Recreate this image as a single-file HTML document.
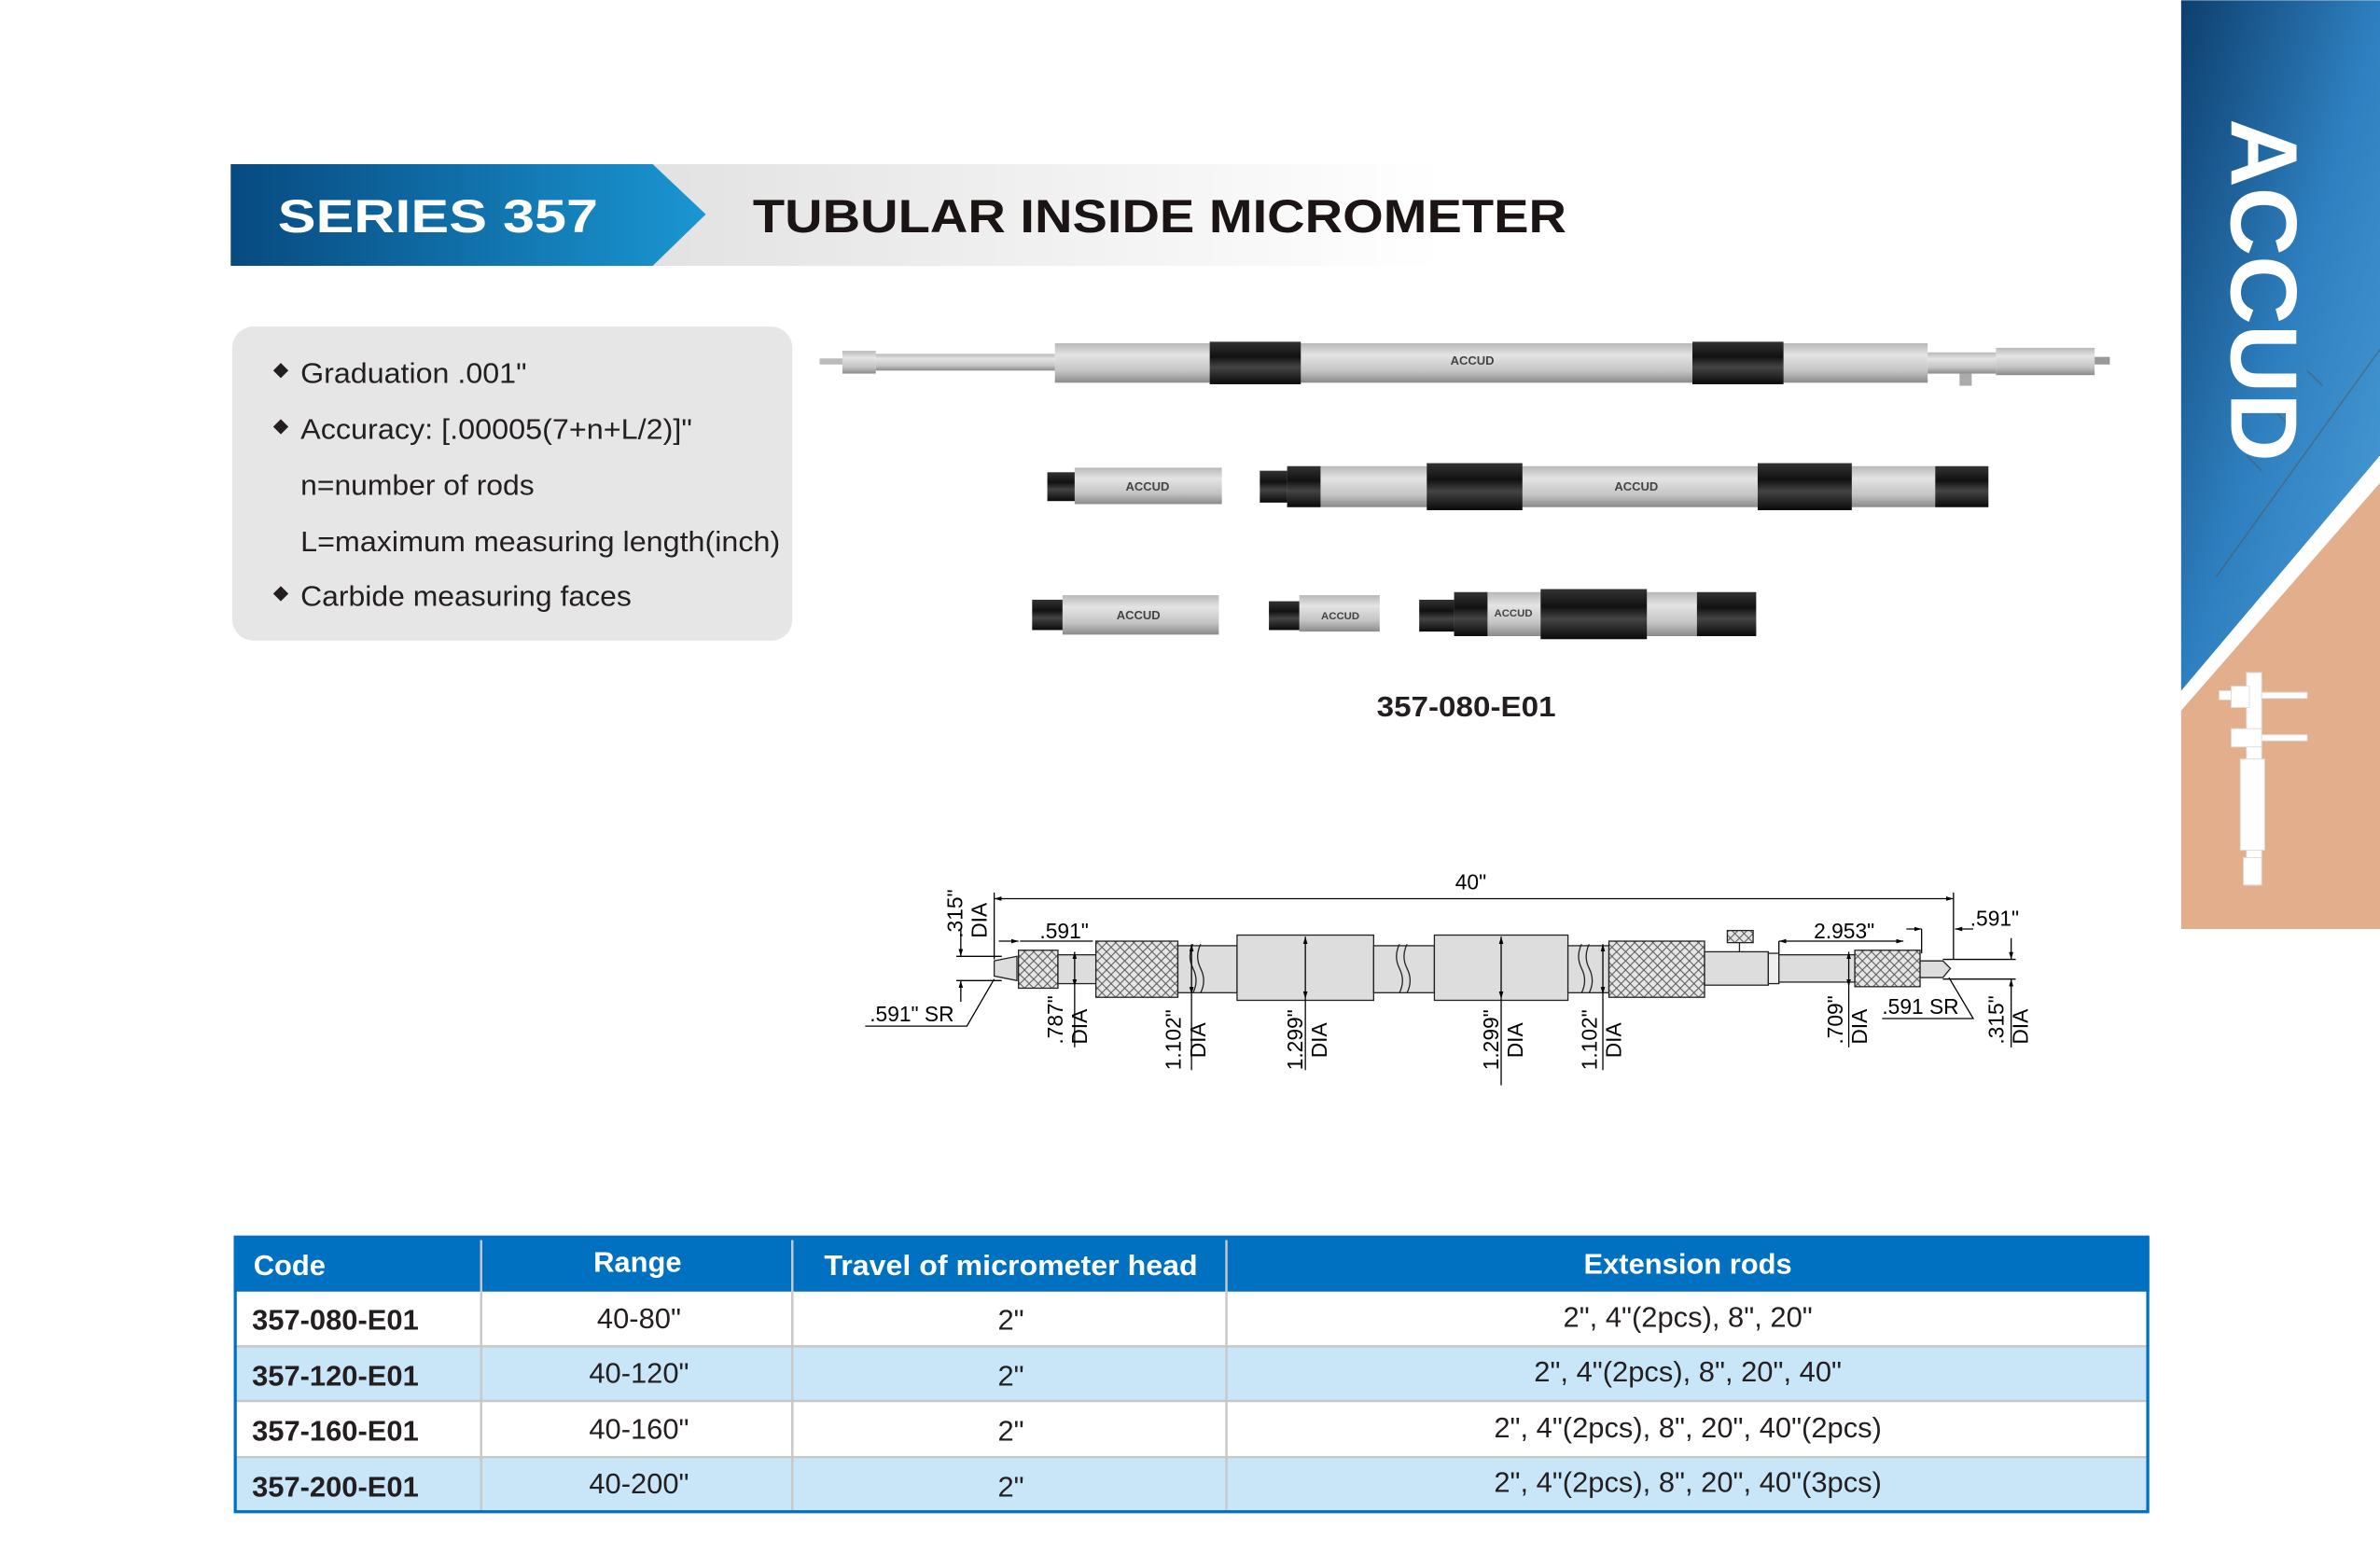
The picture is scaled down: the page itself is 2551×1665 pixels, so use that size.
<!DOCTYPE html>
<html><head><meta charset="utf-8"><style>html,body{margin:0;padding:0;background:#fff}svg{display:block}</style></head><body>
<svg xmlns="http://www.w3.org/2000/svg" width="2551" height="1665" viewBox="0 0 1568 1023" font-family="Liberation Sans, Arial, sans-serif">
<defs>
<linearGradient id="hb" x1="0" x2="1"><stop offset="0" stop-color="#074a80"/><stop offset="1" stop-color="#1a96d2"/></linearGradient>
<linearGradient id="hg" x1="0" x2="1"><stop offset="0" stop-color="#e2e2e2"/><stop offset="1" stop-color="#ffffff"/></linearGradient>
<linearGradient id="cyl" x1="0" y1="0" x2="0" y2="1"><stop offset="0" stop-color="#b8b8b8"/><stop offset="0.3" stop-color="#e4e4e4"/><stop offset="0.7" stop-color="#c4c4c4"/><stop offset="1" stop-color="#8a8a8a"/></linearGradient>
<linearGradient id="blk" x1="0" y1="0" x2="0" y2="1"><stop offset="0" stop-color="#333"/><stop offset="0.35" stop-color="#111"/><stop offset="0.6" stop-color="#444"/><stop offset="1" stop-color="#0a0a0a"/></linearGradient>
<linearGradient id="rp" x1="0" y1="0" x2="1" y2="1"><stop offset="0" stop-color="#0d3f6e"/><stop offset="0.5" stop-color="#2e7fbf"/><stop offset="1" stop-color="#4a9fd8"/></linearGradient>
<pattern id="kn" width="6" height="6" patternUnits="userSpaceOnUse"><rect width="6" height="6" fill="#e6e6e6"/><path d="M0 0L6 6M6 0L0 6" stroke="#555" stroke-width="0.6"/></pattern>
<marker id="ar" viewBox="0 0 10 10" refX="10" refY="5" markerWidth="6" markerHeight="6" orient="auto-start-reverse"><path d="M0 2L10 5L0 8z" fill="#000"/></marker>
</defs>

<rect x="430" y="108" width="520" height="67" fill="url(#hg)"/>
<polygon points="152,108 430,108 465,141 430,175 152,175" fill="url(#hb)"/>
<text x="183" y="153" fill="#fff" font-weight="bold" font-size="31" textLength="211" lengthAdjust="spacingAndGlyphs">SERIES 357</text>
<text x="496" y="153" fill="#1a1414" font-weight="bold" font-size="31" textLength="536" lengthAdjust="spacingAndGlyphs">TUBULAR INSIDE MICROMETER</text>

<rect x="153" y="215" width="369" height="207" rx="14" fill="#e6e6e6"/>
<g font-size="19" fill="#231f20">
<path d="M185 239l5 5-5 5-5-5z" fill="#231f20"/><text x="198" y="252" textLength="149" lengthAdjust="spacingAndGlyphs">Graduation .001"</text>
<path d="M185 276l5 5-5 5-5-5z" fill="#231f20"/><text x="198" y="289" textLength="258" lengthAdjust="spacingAndGlyphs">Accuracy: [.00005(7+n+L/2)]"</text>
<text x="198" y="326" textLength="154" lengthAdjust="spacingAndGlyphs">n=number of rods</text>
<text x="198" y="363" textLength="316" lengthAdjust="spacingAndGlyphs">L=maximum measuring length(inch)</text>
<path d="M185 386l5 5-5 5-5-5z" fill="#231f20"/><text x="198" y="399" textLength="218" lengthAdjust="spacingAndGlyphs">Carbide measuring faces</text>
</g>

<rect x="540" y="236" width="16" height="4" fill="#bbb"/>
<rect x="555" y="231" width="22" height="15" fill="url(#cyl)"/>
<rect x="577" y="233" width="118" height="11" fill="url(#cyl)"/>
<rect x="695" y="226" width="575" height="26" fill="url(#cyl)"/>
<rect x="797" y="225" width="60" height="28" fill="url(#blk)"/>
<rect x="1115" y="225" width="60" height="28" fill="url(#blk)"/>
<text x="970" y="240" font-size="8" font-weight="bold" fill="#444" text-anchor="middle">ACCUD</text>
<rect x="1270" y="232" width="45" height="14" fill="url(#cyl)"/>
<rect x="1315" y="229" width="65" height="18" fill="url(#cyl)"/>
<rect x="1380" y="235" width="10" height="5" fill="#999"/>
<rect x="1291" y="246" width="8" height="8" fill="#aaa"/>

<rect x="690" y="311" width="20" height="19" fill="url(#blk)"/>
<rect x="708" y="308" width="97" height="24" fill="url(#cyl)"/>
<text x="756" y="323" font-size="8" font-weight="bold" fill="#444" text-anchor="middle">ACCUD</text>
<rect x="830" y="310" width="20" height="21" fill="url(#blk)"/>
<rect x="848" y="307" width="462" height="27" fill="url(#cyl)"/>
<rect x="848" y="307" width="22" height="27" fill="url(#blk)"/>
<rect x="940" y="305" width="63" height="31" fill="url(#blk)"/>
<rect x="1158" y="305" width="62" height="31" fill="url(#blk)"/>
<rect x="1275" y="307" width="35" height="27" fill="url(#blk)"/>
<text x="1078" y="323" font-size="8" font-weight="bold" fill="#444" text-anchor="middle">ACCUD</text>

<rect x="680" y="395" width="22" height="20" fill="url(#blk)"/>
<rect x="700" y="392" width="103" height="26" fill="url(#cyl)"/>
<text x="750" y="408" font-size="8" font-weight="bold" fill="#444" text-anchor="middle">ACCUD</text>
<rect x="836" y="396" width="22" height="19" fill="url(#blk)"/>
<rect x="856" y="392" width="53" height="24" fill="url(#cyl)"/>
<text x="883" y="408" font-size="7" font-weight="bold" fill="#444" text-anchor="middle">ACCUD</text>
<rect x="935" y="395" width="25" height="21" fill="url(#blk)"/>
<rect x="958" y="390" width="199" height="29" fill="url(#cyl)"/>
<rect x="958" y="390" width="22" height="29" fill="url(#blk)"/>
<rect x="1015" y="388" width="70" height="33" fill="url(#blk)"/>
<rect x="1118" y="390" width="39" height="29" fill="url(#blk)"/>
<text x="997" y="406" font-size="7" font-weight="bold" fill="#444" text-anchor="middle">ACCUD</text>

<text x="966" y="472" font-size="19" font-weight="bold" text-anchor="middle" fill="#231f20" textLength="118" lengthAdjust="spacingAndGlyphs">357-080-E01</text>

<g stroke="#222" stroke-width="0.8">
<path d="M655 633L670 630L670 646L655 643z" fill="#ddd"/>
<rect x="671" y="626" width="26" height="25" fill="url(#kn)"/>
<rect x="697" y="629" width="25" height="19" fill="#ddd"/>
<rect x="722" y="620" width="54" height="37" fill="url(#kn)"/>
<rect x="776" y="623" width="39" height="31" fill="#ddd"/>
<rect x="815" y="616" width="90" height="43" fill="#ddd"/>
<rect x="905" y="623" width="40" height="31" fill="#ddd"/>
<rect x="945" y="616" width="88" height="43" fill="#ddd"/>
<rect x="1033" y="623" width="27" height="31" fill="#ddd"/>
<rect x="1060" y="620" width="63" height="37" fill="url(#kn)"/>
<rect x="1123" y="627" width="42" height="22" fill="#ddd"/>
<rect x="1138" y="613" width="17" height="8" fill="url(#kn)"/>
<line x1="1146" y1="621" x2="1146" y2="627"/>
<rect x="1165" y="628" width="7" height="20" fill="#eee"/>
<rect x="1172" y="629" width="50" height="18" fill="#ddd"/>
<rect x="1222" y="626" width="43" height="24" fill="url(#kn)"/>
<path d="M1265 633L1280 633L1285 638L1280 644L1265 644z" fill="#ddd"/>
<path d="M786 622q-4 8 0 16q4 8 0 16M791 622q-4 8 0 16q4 8 0 16M922 622q-4 8 0 16q4 8 0 16M927 622q-4 8 0 16q4 8 0 16M1042 622q-4 8 0 16q4 8 0 16M1047 622q-4 8 0 16q4 8 0 16" fill="none"/>
</g>
<g stroke="#000" stroke-width="0.8" fill="none">
<line x1="655" y1="592" x2="1287" y2="592" marker-start="url(#ar)" marker-end="url(#ar)"/>
<line x1="655" y1="588" x2="655" y2="632"/><line x1="1287" y1="588" x2="1287" y2="632"/>
<line x1="633" y1="612" x2="633" y2="630" marker-end="url(#ar)"/><line x1="633" y1="660" x2="633" y2="646" marker-end="url(#ar)"/>
<line x1="630" y1="630" x2="660" y2="630"/><line x1="630" y1="646" x2="660" y2="646"/>
<line x1="658" y1="620" x2="671" y2="620" marker-end="url(#ar)"/><line x1="685" y1="620" x2="672" y2="620"/>
<line x1="685" y1="620" x2="720" y2="620"/>
<polyline points="570,676 637,676 655,645"/>
<line x1="708" y1="640" x2="708" y2="627" marker-end="url(#ar)"/><line x1="708" y1="640" x2="708" y2="650" marker-end="url(#ar)"/><line x1="708" y1="650" x2="708" y2="690"/>
<line x1="785" y1="640" x2="785" y2="622" marker-end="url(#ar)"/><line x1="785" y1="640" x2="785" y2="655" marker-end="url(#ar)"/><line x1="785" y1="655" x2="785" y2="705"/>
<line x1="860" y1="640" x2="860" y2="617" marker-end="url(#ar)"/><line x1="860" y1="640" x2="860" y2="658" marker-end="url(#ar)"/><line x1="860" y1="658" x2="860" y2="705"/>
<line x1="989" y1="640" x2="989" y2="617" marker-end="url(#ar)"/><line x1="989" y1="640" x2="989" y2="658" marker-end="url(#ar)"/><line x1="989" y1="658" x2="989" y2="715"/>
<line x1="1056" y1="640" x2="1056" y2="622" marker-end="url(#ar)"/><line x1="1056" y1="640" x2="1056" y2="655" marker-end="url(#ar)"/><line x1="1056" y1="655" x2="1056" y2="705"/>
<line x1="1218" y1="640" x2="1218" y2="627" marker-end="url(#ar)"/><line x1="1218" y1="640" x2="1218" y2="650" marker-end="url(#ar)"/><line x1="1218" y1="650" x2="1218" y2="690"/>
<line x1="1172" y1="620" x2="1254" y2="620" marker-start="url(#ar)" marker-end="url(#ar)"/>
<line x1="1172" y1="620" x2="1172" y2="628"/>
<line x1="1256" y1="612" x2="1266" y2="612" marker-end="url(#ar)"/><line x1="1300" y1="612" x2="1288" y2="612" marker-end="url(#ar)"/><line x1="1266" y1="612" x2="1266" y2="628"/>
<line x1="1325" y1="618" x2="1325" y2="632" marker-end="url(#ar)"/><line x1="1325" y1="660" x2="1325" y2="645" marker-end="url(#ar)"/>
<line x1="1280" y1="632" x2="1328" y2="632"/><line x1="1280" y1="645" x2="1328" y2="645"/>
<polyline points="1240,671 1300,671 1284,644"/>
<line x1="1325" y1="660" x2="1325" y2="690"/>
</g>
<g font-size="14" fill="#000">
<text x="969" y="586" text-anchor="middle">40"</text>
<text x="685" y="618">.591"</text>
<text x="573" y="673">.591" SR</text>
<text x="1195" y="618">2.953"</text>
<text x="1298" y="610">.591"</text>
<text x="1240" y="668">.591 SR</text>
<text transform="translate(634,618) rotate(-90)">.315"</text><text transform="translate(650,618) rotate(-90)">DIA</text>
<text transform="translate(700,688) rotate(-90)">.787"</text><text transform="translate(716,688) rotate(-90)">DIA</text>
<text transform="translate(778,705) rotate(-90)">1.102"</text><text transform="translate(794,697) rotate(-90)">DIA</text>
<text transform="translate(858,705) rotate(-90)">1.299"</text><text transform="translate(874,697) rotate(-90)">DIA</text>
<text transform="translate(987,705) rotate(-90)">1.299"</text><text transform="translate(1003,697) rotate(-90)">DIA</text>
<text transform="translate(1052,705) rotate(-90)">1.102"</text><text transform="translate(1068,697) rotate(-90)">DIA</text>
<text transform="translate(1214,688) rotate(-90)">.709"</text><text transform="translate(1230,688) rotate(-90)">DIA</text>
<text transform="translate(1320,688) rotate(-90)">.315"</text><text transform="translate(1336,688) rotate(-90)">DIA</text>
</g>

<rect x="154" y="815" width="1262" height="36" fill="#0070c0"/>
<rect x="155" y="851" width="1260" height="36" fill="#fff"/>
<rect x="155" y="887" width="1260" height="36" fill="#c8e6f8"/>
<rect x="155" y="923" width="1260" height="37" fill="#fff"/>
<rect x="155" y="960" width="1260" height="36" fill="#c8e6f8"/>
<g stroke="#c8c8c8" stroke-width="1.5">
<line x1="155" y1="887" x2="1415" y2="887"/><line x1="155" y1="923" x2="1415" y2="923"/><line x1="155" y1="960" x2="1415" y2="960"/>
<line x1="317" y1="817" x2="317" y2="996"/><line x1="522" y1="817" x2="522" y2="996"/><line x1="808" y1="817" x2="808" y2="996"/>
</g>
<rect x="155" y="815" width="1260" height="181" fill="none" stroke="#0070c0" stroke-width="2"/>
<g font-size="19" fill="#fff" font-weight="bold">
<text x="167" y="840">Code</text>
<text x="420" y="838" text-anchor="middle">Range</text>
<text x="666" y="840" text-anchor="middle" textLength="246" lengthAdjust="spacingAndGlyphs">Travel of micrometer head</text>
<text x="1112" y="839" text-anchor="middle">Extension rods</text>
</g>
<g font-size="19" fill="#231f20">
<g font-weight="bold"><text x="166" y="876">357-080-E01</text><text x="166" y="913">357-120-E01</text><text x="166" y="949">357-160-E01</text><text x="166" y="986">357-200-E01</text></g>
<g text-anchor="middle"><text x="421" y="875">40-80"</text><text x="421" y="911">40-120"</text><text x="421" y="948">40-160"</text><text x="421" y="984">40-200"</text>
<text x="666" y="876">2"</text><text x="666" y="913">2"</text><text x="666" y="949">2"</text><text x="666" y="986">2"</text>
<text x="1112" y="874">2", 4"(2pcs), 8", 20"</text><text x="1112" y="910">2", 4"(2pcs), 8", 20", 40"</text><text x="1112" y="947">2", 4"(2pcs), 8", 20", 40"(2pcs)</text><text x="1112" y="983">2", 4"(2pcs), 8", 20", 40"(3pcs)</text></g>
</g>

<rect x="1437" y="0" width="131" height="612" fill="#e3ae8b"/>
<polygon points="1437,0 1568,0 1568,300 1437,455" fill="url(#rp)"/>
<polygon points="1437,455 1568,300 1568,318 1437,468" fill="#fff"/>
<g stroke="#555" stroke-width="1" opacity="0.5"><line x1="1460" y1="380" x2="1568" y2="230"/><line x1="1480" y1="300" x2="1490" y2="310"/><line x1="1500" y1="272" x2="1510" y2="282"/><line x1="1520" y1="244" x2="1530" y2="254"/></g>
<text transform="translate(1470,78) rotate(90)" font-size="62" font-weight="bold" fill="#fff" textLength="226" lengthAdjust="spacingAndGlyphs">ACCUD</text>
<g fill="#fff" stroke="#ddd" stroke-width="0.6">
<rect x="1480" y="443" width="10" height="140"/>
<rect x="1462" y="455" width="8" height="6"/>
<path d="M1470 452h12v14h-12z"/><path d="M1490 456h30v4h-30z"/><path d="M1470 480h20v12h-20z"/><path d="M1490 484h30v4h-30z"/>
<rect x="1476" y="500" width="16" height="60"/><rect x="1478" y="565" width="12" height="18"/>
</g>
</svg>
</body></html>
